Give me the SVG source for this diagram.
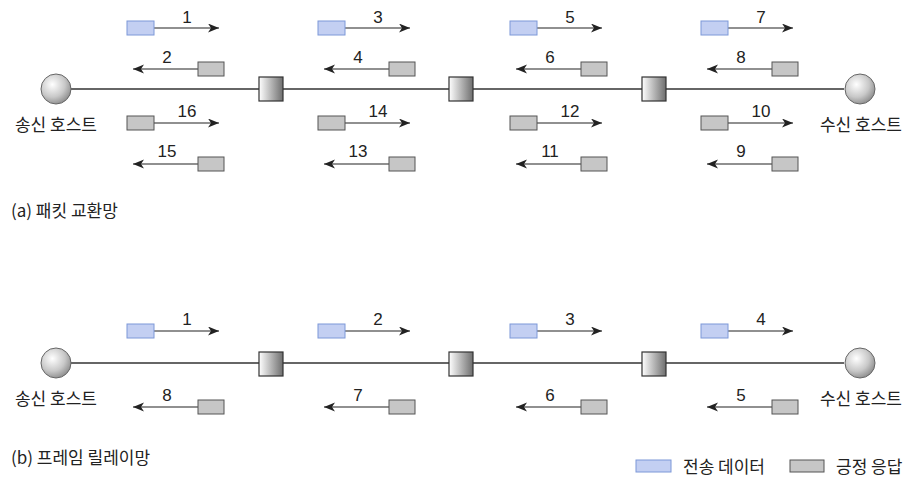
<svg xmlns="http://www.w3.org/2000/svg" width="912" height="486" viewBox="0 0 912 486">
<defs>
<radialGradient id="hostG" cx="0.38" cy="0.35" r="0.7">
<stop offset="0" stop-color="#ffffff"/>
<stop offset="0.6" stop-color="#c8c8c8"/>
<stop offset="1" stop-color="#8a8a8a"/>
</radialGradient>
<linearGradient id="swG" x1="0" y1="0" x2="1" y2="0">
<stop offset="0" stop-color="#ffffff"/>
<stop offset="1" stop-color="#6e6e6e"/>
</linearGradient>
<marker id="ah" markerUnits="userSpaceOnUse" markerWidth="12" markerHeight="10" refX="11" refY="4.5" orient="auto">
<path d="M0,0 L11,4.5 L0,9 L3,4.5 z" fill="#222"/>
</marker>
<style>
.line{stroke:#333;stroke-width:1.3;fill:none}
.arr{stroke:#222;stroke-width:1.2;fill:none;marker-end:url(#ah)}
.host{fill:url(#hostG);stroke:#666;stroke-width:1}
.sw{fill:url(#swG);stroke:#333;stroke-width:1.2}
.dat{fill:#c3cff2;stroke:#7d98d8;stroke-width:1}
.ack{fill:#c6c6c6;stroke:#555;stroke-width:1}
.num{font-family:"Liberation Sans",Arial,sans-serif;font-size:17px;fill:#222;text-anchor:middle}
.kr{font-family:"Noto Sans CJK KR","Noto Sans",sans-serif;font-size:17px;fill:#222}
.mid{text-anchor:middle}
</style>
</defs>
<rect width="912" height="486" fill="#fff"/>

<g id="connectors">
<line class="line" x1="71" y1="89" x2="844" y2="89"/>
<line class="line" x1="71" y1="363" x2="844" y2="363"/>
<line class="arr" x1="154" y1="28" x2="219" y2="28"/>
<line class="arr" x1="345" y1="28" x2="410" y2="28"/>
<line class="arr" x1="537" y1="28" x2="602" y2="28"/>
<line class="arr" x1="728" y1="28" x2="793" y2="28"/>
<line class="arr" x1="198" y1="69" x2="133" y2="69"/>
<line class="arr" x1="389" y1="69" x2="324" y2="69"/>
<line class="arr" x1="581" y1="69" x2="516" y2="69"/>
<line class="arr" x1="772" y1="69" x2="707" y2="69"/>
<line class="arr" x1="154" y1="123" x2="219" y2="123"/>
<line class="arr" x1="345" y1="123" x2="410" y2="123"/>
<line class="arr" x1="537" y1="123" x2="602" y2="123"/>
<line class="arr" x1="728" y1="123" x2="793" y2="123"/>
<line class="arr" x1="198" y1="164" x2="133" y2="164"/>
<line class="arr" x1="389" y1="164" x2="324" y2="164"/>
<line class="arr" x1="581" y1="164" x2="516" y2="164"/>
<line class="arr" x1="772" y1="164" x2="707" y2="164"/>
<line class="arr" x1="154" y1="331" x2="219" y2="331"/>
<line class="arr" x1="345" y1="331" x2="410" y2="331"/>
<line class="arr" x1="537" y1="331" x2="602" y2="331"/>
<line class="arr" x1="728" y1="331" x2="793" y2="331"/>
<line class="arr" x1="198" y1="407" x2="133" y2="407"/>
<line class="arr" x1="389" y1="407" x2="324" y2="407"/>
<line class="arr" x1="581" y1="407" x2="516" y2="407"/>
<line class="arr" x1="772" y1="407" x2="707" y2="407"/>
</g>

<g id="a-src-host"><circle class="host" cx="56" cy="89" r="15"/><text class="kr mid" x="56" y="131">송신 호스트</text></g>
<g id="a-dst-host"><circle class="host" cx="860" cy="89" r="15"/><text class="kr mid" x="861" y="131">수신 호스트</text></g>
<g id="a-sw1"><rect class="sw" x="259" y="77" width="24" height="24"/></g>
<g id="a-sw2"><rect class="sw" x="449" y="77" width="24" height="24"/></g>
<g id="a-sw3"><rect class="sw" x="642" y="77" width="24" height="24"/></g>

<g id="a-pkts">
<rect class="dat" x="127" y="21" width="27" height="14"/><text class="num" x="187" y="23">1</text>
<rect class="dat" x="318" y="21" width="27" height="14"/><text class="num" x="378" y="23">3</text>
<rect class="dat" x="510" y="21" width="27" height="14"/><text class="num" x="570" y="23">5</text>
<rect class="dat" x="701" y="21" width="27" height="14"/><text class="num" x="761" y="23">7</text>

<rect class="ack" x="198" y="62" width="26" height="14"/><text class="num" x="167" y="63">2</text>
<rect class="ack" x="389" y="62" width="26" height="14"/><text class="num" x="358" y="63">4</text>
<rect class="ack" x="581" y="62" width="26" height="14"/><text class="num" x="550" y="63">6</text>
<rect class="ack" x="772" y="62" width="26" height="14"/><text class="num" x="741" y="63">8</text>

<rect class="ack" x="127" y="116" width="27" height="14"/><text class="num" x="187" y="117">16</text>
<rect class="ack" x="318" y="116" width="27" height="14"/><text class="num" x="378" y="117">14</text>
<rect class="ack" x="510" y="116" width="27" height="14"/><text class="num" x="570" y="117">12</text>
<rect class="ack" x="701" y="116" width="27" height="14"/><text class="num" x="761" y="117">10</text>

<rect class="ack" x="198" y="157" width="26" height="14"/><text class="num" x="167" y="157">15</text>
<rect class="ack" x="389" y="157" width="26" height="14"/><text class="num" x="358" y="157">13</text>
<rect class="ack" x="581" y="157" width="26" height="14"/><text class="num" x="550" y="157">11</text>
<rect class="ack" x="772" y="157" width="26" height="14"/><text class="num" x="741" y="157">9</text>
</g>

<text class="kr" x="11" y="217">(a) 패킷 교환망</text>

<g id="b-src-host"><circle class="host" cx="56" cy="363" r="15"/><text class="kr mid" x="56" y="405">송신 호스트</text></g>
<g id="b-dst-host"><circle class="host" cx="860" cy="363" r="15"/><text class="kr mid" x="861" y="405">수신 호스트</text></g>
<g id="b-sw1"><rect class="sw" x="259" y="352" width="24" height="24"/></g>
<g id="b-sw2"><rect class="sw" x="449" y="352" width="24" height="24"/></g>
<g id="b-sw3"><rect class="sw" x="642" y="352" width="24" height="24"/></g>

<g id="b-pkts">
<rect class="dat" x="127" y="324" width="27" height="14"/><text class="num" x="187" y="325">1</text>
<rect class="dat" x="318" y="324" width="27" height="14"/><text class="num" x="378" y="325">2</text>
<rect class="dat" x="510" y="324" width="27" height="14"/><text class="num" x="570" y="325">3</text>
<rect class="dat" x="701" y="324" width="27" height="14"/><text class="num" x="761" y="325">4</text>

<rect class="ack" x="198" y="400" width="26" height="14"/><text class="num" x="167" y="401">8</text>
<rect class="ack" x="389" y="400" width="26" height="14"/><text class="num" x="358" y="401">7</text>
<rect class="ack" x="581" y="400" width="26" height="14"/><text class="num" x="550" y="401">6</text>
<rect class="ack" x="772" y="400" width="26" height="14"/><text class="num" x="741" y="401">5</text>
</g>

<text class="kr" x="11" y="464">(b) 프레임 릴레이망</text>

<g id="legend">
<rect class="dat" x="636" y="460" width="35" height="12"/>
<text class="kr" x="683" y="473">전송 데이터</text>
<rect class="ack" x="790" y="460" width="34" height="12"/>
<text class="kr" x="836" y="473">긍정 응답</text>
</g>
</svg>
